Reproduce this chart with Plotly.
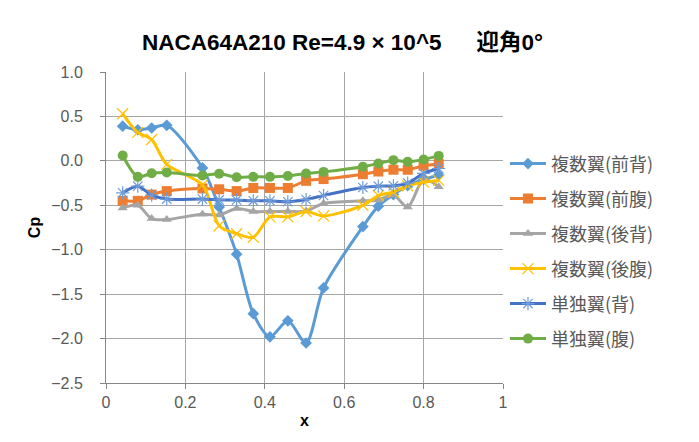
import plotly.graph_objects as go

x_pos = [0.042, 0.080, 0.115, 0.153, 0.243, 0.285, 0.329, 0.371, 0.413, 0.458,
         0.504, 0.548, 0.647, 0.686, 0.724, 0.760, 0.800, 0.838]

front_upper = [0.39, 0.35, 0.37, 0.40, -0.08, -0.52, -1.05, -1.72, -1.98, -1.80,
               -2.05, -1.43, -0.74, -0.51, -0.38, -0.28, -0.21, -0.16]
front_lower = [-0.45, -0.45, -0.38, -0.34, -0.31, -0.32, -0.34, -0.305, -0.305, -0.305,
               -0.225, -0.205, -0.15, -0.12, -0.10, -0.10, -0.055, -0.035]
rear_upper = [-0.53, -0.50, -0.65, -0.66, -0.60, -0.61, -0.535, -0.57, -0.57, -0.57,
              -0.565, -0.48, -0.45, -0.44, -0.385, -0.52, -0.21, -0.29]
rear_lower = [0.53, 0.32, 0.24, -0.04, -0.27, -0.73, -0.82, -0.86, -0.63, -0.63,
              -0.57, -0.62, -0.50, -0.39, -0.35, -0.28, -0.24, -0.22]
single_upper = [-0.36, -0.285, -0.385, -0.43, -0.43, -0.44, -0.44, -0.45, -0.45, -0.46,
                -0.435, -0.39, -0.30, -0.285, -0.28, -0.25, -0.14, -0.086]
single_lower = [0.06, -0.18, -0.14, -0.13, -0.165, -0.145, -0.185, -0.18, -0.18, -0.17,
                -0.142, -0.124, -0.067, -0.03, 0.008, -0.011, 0.016, 0.056]

names = ["複数翼(前背)", "複数翼(前腹)", "複数翼(後背)", "複数翼(後腹)", "単独翼(背)", "単独翼(腹)"]
series = [front_upper, front_lower, rear_upper, rear_lower, single_upper, single_lower]
colors = ["#5B9BD5", "#ED7D31", "#A5A5A5", "#FFC000", "#4472C4", "#70AD47"]
symbols = ["diamond", "square", "triangle-up", "x-thin-open", "asterisk-open", "circle"]
msizes = [9, 10, 9, 11, 11, 10]

fig = go.Figure()
for i, (nm, ys) in enumerate(zip(names, series)):
    mk = dict(symbol=symbols[i], size=msizes[i], color=colors[i])
    if symbols[i] in ("x-thin-open", "asterisk-open"):
        mk["line"] = dict(color="#6F9BD8" if i == 4 else colors[i], width=1.2)
        if i == 4:
            mk["color"] = "#6F9BD8"
    fig.add_trace(go.Scatter(
        x=x_pos, y=ys, name=nm, mode="lines+markers",
        line=dict(color=colors[i], width=3, shape="spline", smoothing=0.8),
        marker=mk, legendgroup=f"g{i}"))

tick_font = dict(family="Liberation Sans, Noto Sans CJK JP", size=16, color="#595959")
fig.update_layout(
    width=699, height=442,
    margin=dict(l=106, r=196, t=72, b=59, autoexpand=False),
    paper_bgcolor="white", plot_bgcolor="white",
    title=dict(text="<b>NACA64A210 Re=4.9 × 10^5 　 迎角0°</b>",
               font=dict(family="Liberation Sans, Noto Sans CJK JP", size=22.5, color="#000000"),
               x=0.49, xanchor="center", xref="container",
               y=0.905, yanchor="middle", yref="container"),
    legend=dict(x=1.005, xanchor="left", y=0.764, yanchor="top",
                font=dict(family="Noto Sans CJK JP", size=18, color="#595959"),
                tracegroupgap=8.6, traceorder="grouped", bgcolor="rgba(0,0,0,0)",
                itemwidth=36),
    showlegend=True,
)
fig.update_xaxes(range=[0, 1], tickvals=[0, 0.2, 0.4, 0.6, 0.8, 1],
                 ticktext=["0", "0.2", "0.4", "0.6", "0.8", "1"],
                 showgrid=True, gridcolor="#A6A6A6", gridwidth=1,
                 showline=True, linecolor="#868686", linewidth=1,
                 ticks="outside", ticklen=5, tickcolor="#868686",
                 tickfont=tick_font, zeroline=False, automargin=False,
                 title=dict(text="<b>x</b>", font=dict(family="Liberation Sans", size=16, color="#000"),
                            standoff=4))
fig.update_yaxes(range=[-2.5, 1.0], dtick=0.5, tickformat=".1f",
                 showgrid=True, gridcolor="#A6A6A6", gridwidth=1,
                 showline=True, linecolor="#868686", linewidth=1,
                 ticks="outside", ticklen=5, tickcolor="#868686",
                 tickfont=tick_font, zeroline=False, automargin=False,
                 ticklabelstandoff=14,
                 title=dict(text="<b>Cp</b>", font=dict(family="Liberation Sans", size=16, color="#000"),
                            standoff=6))

fig.write_html("out.html", config={"displayModeBar": False},
               post_script="document.body.style.margin='0';")
